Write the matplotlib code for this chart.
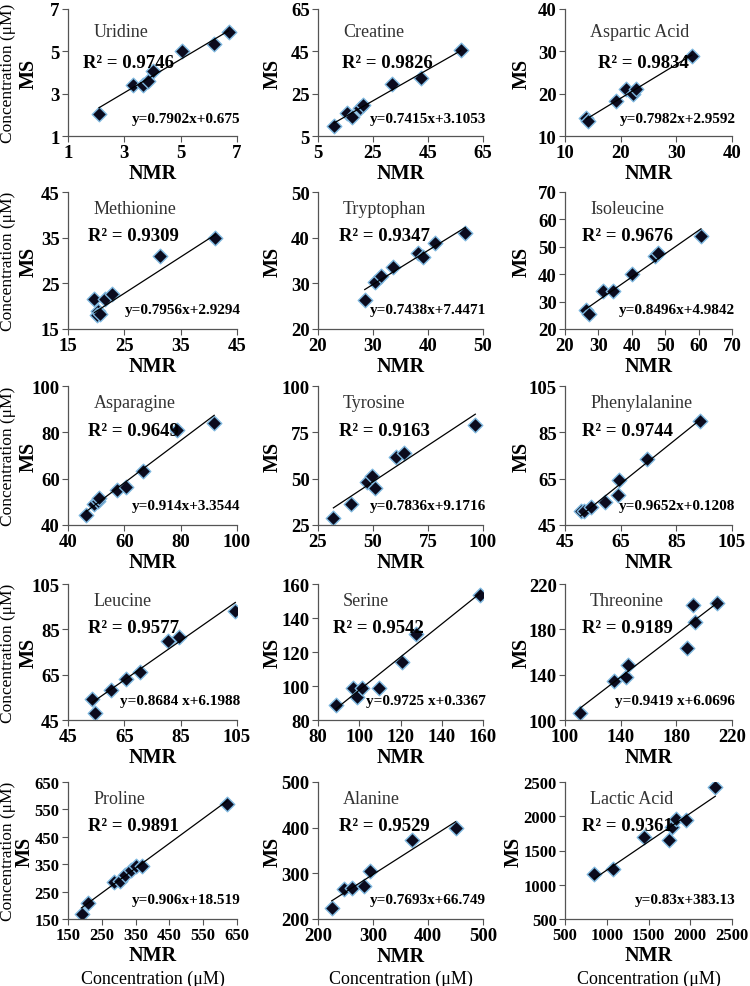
import numpy as np
import matplotlib
matplotlib.use('Agg')
import matplotlib.pyplot as plt

plt.rcParams['font.family'] = ['Liberation Serif', 'DejaVu Serif']

# compound names, grid order (row by row)
names = ["Uridine", "Creatine", "Aspartic Acid",
         "Methionine", "Tryptophan", "Isoleucine",
         "Asparagine", "Tyrosine", "Phenylalanine",
         "Leucine", "Serine", "Threonine",
         "Proline", "Alanine", "Lactic Acid"]

# NMR (x) and MS (y) concentrations
nmr_uridine = [2.1, 3.3, 3.65, 3.85, 4.0, 5.05, 6.2, 6.7]
ms_uridine = [2.05, 3.4, 3.4, 3.6, 4.05, 5.0, 5.35, 5.9]
nmr_creatine = [10.8, 15.7, 17.2, 20.2, 21.4, 31.8, 42.5, 56.9]
ms_creatine = [9.7, 16.1, 14.2, 18.4, 19.5, 29.5, 32.2, 45.6]
nmr_aspartic = [13.8, 14.2, 19.1, 20.9, 22.2, 22.8, 32.8]
ms_aspartic = [14.2, 13.6, 18.2, 21.1, 20.0, 21.1, 28.8]
nmr_methionine = [19.7, 20.3, 20.1, 20.6, 21.6, 22.8, 31.3, 41.1]
ms_methionine = [21.6, 19.0, 18.0, 18.2, 21.6, 22.6, 30.9, 35.0]
nmr_tryptophan = [28.5, 30.3, 31.4, 33.6, 38.2, 39.1, 41.3, 46.8]
ms_tryptophan = [26.4, 30.4, 31.7, 33.6, 36.7, 35.7, 38.9, 41.0]
nmr_isoleucine = [26.4, 27.3, 31.5, 34.4, 40.0, 46.9, 47.8, 60.7]
ms_isoleucine = [27.1, 25.6, 33.8, 33.9, 39.9, 46.8, 47.8, 54.1]
nmr_asparagine = [46.5, 49.3, 50.5, 51.1, 57.5, 60.6, 66.8, 78.8, 91.9]
ms_asparagine = [44.3, 49.1, 50.3, 51.5, 55.3, 56.3, 63.1, 81.0, 83.9]
nmr_tyrosine = [32.0, 39.9, 47.1, 49.4, 50.9, 60.5, 64.3, 96.5]
ms_tyrosine = [28.9, 36.1, 48.3, 51.7, 45.1, 61.7, 63.9, 79.1]
nmr_phenylalanine = [50.7, 51.9, 54.4, 59.5, 63.9, 64.5, 74.4, 93.4]
ms_phenylalanine = [51.1, 50.9, 52.6, 55.1, 57.9, 64.4, 73.6, 90.0]
nmr_leucine = [53.6, 54.6, 60.2, 65.5, 70.7, 80.5, 84.4, 104.4]
ms_leucine = [54.4, 48.2, 58.3, 62.9, 66.1, 79.9, 81.8, 93.3]
nmr_serine = [88.8, 96.9, 98.7, 101.5, 109.6, 120.7, 127.5, 158.4]
ms_serine = [89.1, 99.0, 93.3, 99.0, 98.6, 114.2, 130.3, 153.6]
nmr_threonine = [110.9, 135.3, 143.5, 145.3, 187.6, 192.0, 193.3, 209.2]
ms_threonine = [106.3, 134.0, 138.3, 148.3, 163.3, 201.3, 186.9, 203.6]
nmr_proline = [190, 210, 285, 305, 320, 335, 350, 370, 620]
ms_proline = [170, 210, 285, 290, 310, 330, 345, 345, 570]
nmr_alanine = [225, 248, 262, 283, 295, 370, 450]
ms_alanine = [225, 265, 268, 272, 305, 372, 400]
nmr_lactic = [850, 1080, 1450, 1750, 1780, 1830, 1950, 2300]
ms_lactic = [1150, 1230, 1700, 1650, 1850, 1960, 1950, 2430]

nmr = [nmr_uridine, nmr_creatine, nmr_aspartic, nmr_methionine, nmr_tryptophan,
       nmr_isoleucine, nmr_asparagine, nmr_tyrosine, nmr_phenylalanine,
       nmr_leucine, nmr_serine, nmr_threonine, nmr_proline, nmr_alanine, nmr_lactic]
ms = [ms_uridine, ms_creatine, ms_aspartic, ms_methionine, ms_tryptophan,
      ms_isoleucine, ms_asparagine, ms_tyrosine, ms_phenylalanine,
      ms_leucine, ms_serine, ms_threonine, ms_proline, ms_alanine, ms_lactic]

# trendlines as printed on the chart
slopes = [0.7902, 0.7415, 0.7982, 0.7956, 0.7438, 0.8496, 0.914, 0.7836, 0.9652,
          0.8684, 0.9725, 0.9419, 0.906, 0.7693, 0.83]
intercepts = [0.675, 3.1053, 2.9592, 2.9294, 7.4471, 4.9842, 3.3544, 9.1716, 0.1208,
              6.1988, 0.3367, 6.0696, 18.519, 66.749, 383.13]
equations = ["y=0.7902x+0.675", "y=0.7415x+3.1053", "y=0.7982x+2.9592",
             "y=0.7956x+2.9294", "y=0.7438x+7.4471", "y=0.8496x+4.9842",
             "y=0.914x+3.3544", "y=0.7836x+9.1716", "y=0.9652x+0.1208",
             "y=0.8684 x+6.1988", "y=0.9725 x+0.3367", "y=0.9419 x+6.0696",
             "y=0.906x+18.519", "y=0.7693x+66.749", "y=0.83x+383.13"]
r2 = ["0.9746", "0.9826", "0.9834", "0.9309", "0.9347", "0.9676", "0.9649", "0.9163",
      "0.9744", "0.9577", "0.9542", "0.9189", "0.9891", "0.9529", "0.9361"]

# axis ticks
xticks = [[1, 3, 5, 7], [5, 25, 45, 65], [10, 20, 30, 40],
          [15, 25, 35, 45], [20, 30, 40, 50], [20, 30, 40, 50, 60, 70],
          [40, 60, 80, 100], [25, 50, 75, 100], [45, 65, 85, 105],
          [45, 65, 85, 105], [80, 100, 120, 140, 160], [100, 140, 180, 220],
          [150, 250, 350, 450, 550, 650], [200, 300, 400, 500], [500, 1000, 1500, 2000, 2500]]
yticks = [[1, 3, 5, 7], [5, 25, 45, 65], [10, 20, 30, 40],
          [15, 25, 35, 45], [20, 30, 40, 50], [20, 30, 40, 50, 60, 70],
          [40, 60, 80, 100], [25, 50, 75, 100], [45, 65, 85, 105],
          [45, 65, 85, 105], [80, 100, 120, 140, 160], [100, 140, 180, 220],
          [150, 250, 350, 450, 550, 650], [200, 300, 400, 500], [500, 1000, 1500, 2000, 2500]]

W, H = 750, 987
fig = plt.figure(figsize=(W / 100, H / 100), dpi=100)

# panel frames in pixels
cols = [(68, 237), (318, 483), (565, 732)]
rows = [(10, 137), (193, 330), (387, 526), (585, 721), (783, 920)]
r2_x = [0.09, 0.145, 0.2, 0.12, 0.13, 0.1, 0.12, 0.13, 0.1, 0.12, 0.09, 0.1, 0.12, 0.13, 0.1]
ms_x = [29, 273, 522]

for i in range(15):
    r, c = divmod(i, 3)
    x0, x1 = cols[c]
    yt, yb = rows[r]
    ax = fig.add_axes([x0 / W, 1 - yb / H, (x1 - x0) / W, (yb - yt) / H])

    x = np.array(nmr[i])
    y = np.array(ms[i])
    ax.scatter(x, y, marker='D', s=55, c='#0b0b1e', edgecolors='#7fb8e0',
               linewidths=1.0, zorder=2)
    xl = np.array([x.min(), x.max()])
    ax.plot(xl, slopes[i] * xl + intercepts[i], color='black', lw=0.9, zorder=3)

    ax.set_xlim(xticks[i][0], xticks[i][-1])
    ax.set_ylim(yticks[i][0], yticks[i][-1])
    ax.set_xticks(xticks[i])
    ax.set_yticks(yticks[i])
    for s in ['top', 'right']:
        ax.spines[s].set_visible(False)
    for s in ['left', 'bottom']:
        ax.spines[s].set_color('#555555')
        ax.spines[s].set_linewidth(0.9)
    lsize = 12 if i in (12, 14) else 13.5
    ax.tick_params(direction='out', length=4, width=0.8, color='#555555',
                   labelsize=lsize, pad=2)
    for lab in ax.get_xticklabels() + ax.get_yticklabels():
        lab.set_fontweight('bold')

    name_y = 0.82 if r == 0 else 0.88
    r2_y = 0.58 if r == 0 else 0.68
    ax.text(0.15, name_y, names[i], transform=ax.transAxes, fontsize=13,
            color='#333333', va='center')
    ax.text(r2_x[i], r2_y, "R² = " + r2[i], transform=ax.transAxes, fontsize=13.5,
            fontweight='bold', va='center')
    ax.text(1.02, 0.14, equations[i], transform=ax.transAxes, fontsize=11,
            fontweight='bold', ha='right', va='center')

    ax.set_xlabel("NMR", fontsize=14.5, fontweight='bold', labelpad=1)
    mx = ms_x[c]
    if i == 14:
        mx -= 8
    if i == 12:
        mx -= 4
    ax.text((mx - x0) / (x1 - x0), 0.5, "MS", transform=ax.transAxes,
            rotation=90, fontsize=14.5, fontweight='bold', ha='center', va='center')
    if c == 0:
        ax.text((8 - x0) / (x1 - x0), 0.5, "Concentration (μM)", transform=ax.transAxes,
                rotation=90, fontsize=12.5, ha='center', va='center')
    if r == 4:
        ax.text(0.5, -0.43, "Concentration (μM)", transform=ax.transAxes,
                fontsize=13, ha='center', va='center')

fig.savefig("out.png", dpi=100, facecolor='white')
